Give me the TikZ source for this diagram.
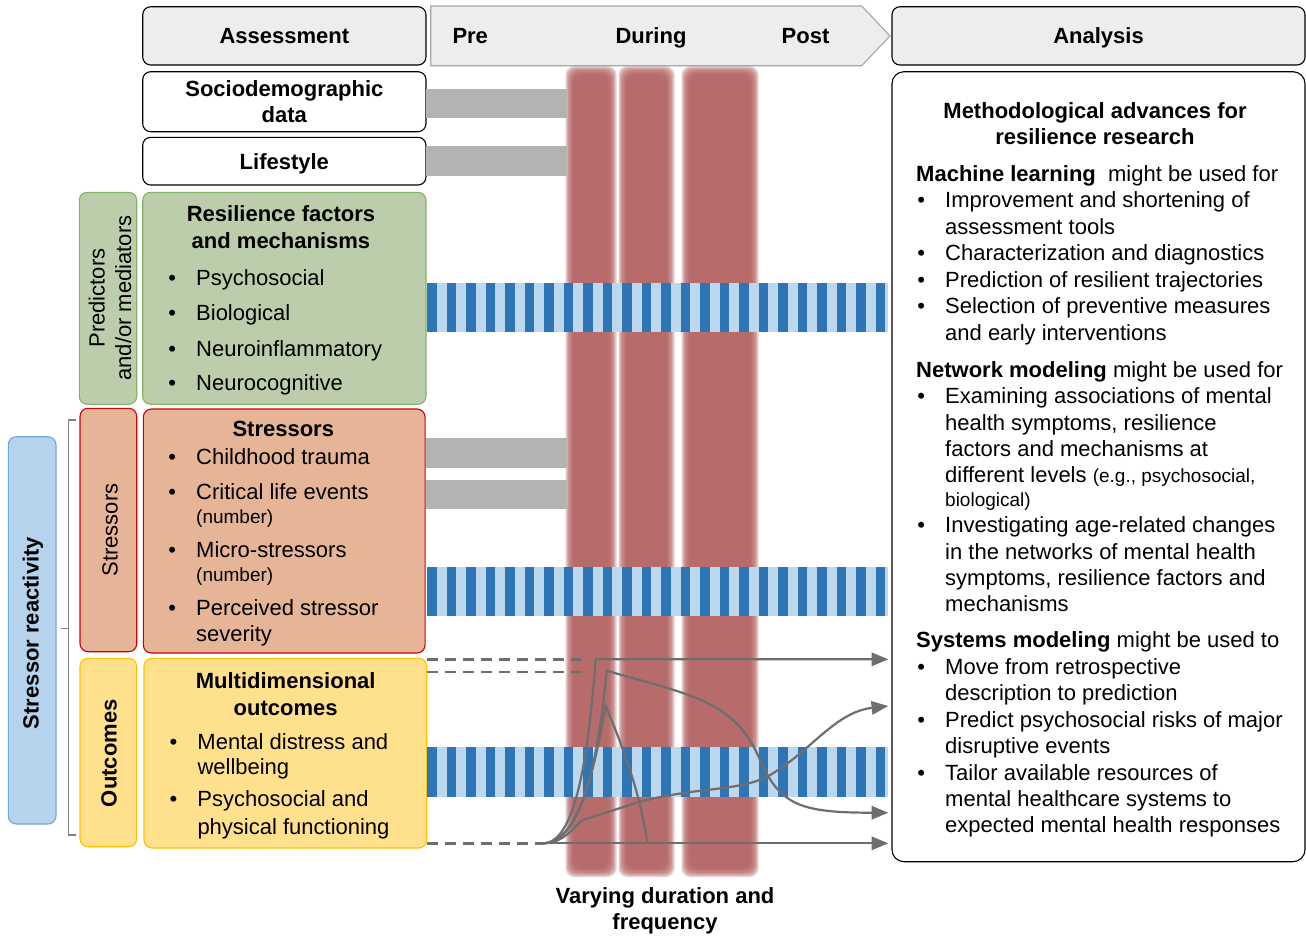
\documentclass[tikz,border=0pt]{standalone}
\usepackage{fontspec}
\setmainfont{Liberation Sans}
\usepackage{tikz}
\usetikzlibrary{arrows.meta,positioning}
\definecolor{hdrgray}{RGB}{237,237,237}
\definecolor{phaseline}{RGB}{166,166,166}
\definecolor{bargray}{RGB}{179,179,179}
\definecolor{greenfill}{RGB}{188,205,172}
\definecolor{greenline}{RGB}{130,179,102}
\definecolor{stressfill}{RGB}{230,180,150}
\definecolor{stressline}{RGB}{204,0,0}
\definecolor{outfill}{RGB}{255,224,140}
\definecolor{outline}{RGB}{255,192,0}
\definecolor{reactfill}{RGB}{182,211,238}
\definecolor{reactline}{RGB}{111,168,220}
\definecolor{stripelt}{RGB}{189,215,238}
\definecolor{stripedk}{RGB}{46,117,182}
\definecolor{redcol}{RGB}{177,94,94}
\definecolor{trajgray}{RGB}{110,110,110}
\definecolor{brkgray}{RGB}{128,128,128}
\newcommand\bul{\llap{\textbullet\hspace{20.2pt}}}
\newcommand\smallfont{\fontsize{19}{23}\selectfont}

\begin{document}
\begin{tikzpicture}[x=1pt,y=-1pt,
  every node/.style={inner sep=0pt},
  box/.style={draw,rounded corners=8pt,line width=1.1pt},
  reg/.style={font=\fontsize{22}{26.5}\selectfont},
  bld/.style={font=\fontsize{22}{26.5}\selectfont\bfseries},
  hdr/.style={box,bld,fill=hdrgray,minimum height=58.3pt,text height=15.8pt,text depth=0pt},
  ln/.style={reg,anchor=base west},
  smalltxt/.style={font=\smallfont},
  ttl/.style={bld,align=center},
  greenbox/.style={box,fill=greenfill,draw=greenline},
  stressbox/.style={box,fill=stressfill,draw=stressline},
  outbox/.style={box,fill=outfill,draw=outline},
  traj/.style={draw=trajgray,line width=2.2pt},
  arrtip/.style={-{Triangle[length=16.7pt,width=13.3pt]}},
  dashln/.style={draw=trajgray,line width=2.4pt,dash pattern=on 11pt off 7pt}
]
\useasboundingbox (0,0) rectangle (1306,935);

% time columns
\foreach \xa/\xb in {567/615,620/673,683/757}
  \foreach \k in {0,...,6}
    \fill[redcol,fill opacity=0.3,rounded corners=9pt]
      (\xa-1.5+\k*1.3,66+\k*1.4) rectangle (\xb+1.5-\k*1.3,877-\k*1.4);

% header row
\node[hdr,minimum width=283.3pt] (assess) at (284.35,35.85) {Assessment};
\draw[fill=hdrgray,draw=phaseline,line width=1.1pt]
  (430.7,6) -- (861.7,6) -- (890,35.85) -- (861.7,65.7) -- (430.7,65.7) -- cycle;
\node[bld,anchor=base west] (pre) at (452.3,43.3) {Pre};
\node[bld,anchor=base] (during) at (651,43.3) {During};
\node[bld,anchor=base] (post) at (805.5,43.3) {Post};
\node[hdr,minimum width=413pt] (anahdr) at (1098.5,35.85) {Analysis};

% assessment column
\node[box,ttl,fill=white,minimum width=283.3pt,minimum height=60pt] (socio) at (284.35,101.7) {Sociodemographic\\data};
\node[box,bld,fill=white,minimum width=283.3pt,minimum height=47.7pt,text height=15.8pt,text depth=0pt] (life) at (284.35,161.15) {Lifestyle};

\node[greenbox,minimum width=57.4pt,minimum height=212pt] (predbox) at (108,298.3) {};
\node[reg,rotate=90,align=center] (predlab) at (110,298) {Predictors\\and/or mediators};
\node[greenbox,minimum width=283.3pt,minimum height=212pt] (resbox) at (284.35,298.3) {};
\node[ttl] (restitle) at (281,227) {Resilience factors\\and mechanisms};
\foreach \yy/\txt [count=\i] in {285.7/Psychosocial,320.7/Biological,356.7/Neuroinflammatory,390.7/Neurocognitive}
  \node[ln] (res\i) at (196,\yy) {\bul\txt};

\node[stressbox,minimum width=56.7pt,minimum height=243.4pt] (strS) at (108.35,530) {};
\node[reg,rotate=90] (strlab) at (110,530) {Stressors};
\node[stressbox,minimum width=281.7pt,minimum height=244pt] (strB) at (284.2,531) {};
\node[bld,anchor=base] (strtitle) at (283.3,436.7) {Stressors};
\foreach \yy/\txt [count=\i] in {464/Childhood trauma,499/Critical life events,557.3/Micro-stressors,615.7/Perceived stressor}
  \node[ln] (str\i) at (196,\yy) {\bul\txt};
\foreach \yy [count=\i] in {523.3,581.7}
  \node[ln,smalltxt] (num\i) at (196,\yy) {(number)};
\node[ln] (sev) at (196,641.7) {severity};

\node[outbox,minimum width=56.7pt,minimum height=188.4pt] (outS) at (108.35,752.5) {};
\node[bld,rotate=90] (outlab) at (109,753.3) {Outcomes};
\node[outbox,minimum width=282.7pt,minimum height=189.7pt] (outB) at (285.35,753.15) {};
\node[ttl] (outtitle) at (285.7,694.2) {Multidimensional\\outcomes};
\foreach \yy/\txt [count=\i] in {749/Mental distress and,806.7/Psychosocial and}
  \node[ln] (out\i) at (197.3,\yy) {\bul\txt};
\foreach \yy/\txt [count=\i] in {774/wellbeing,834/physical functioning}
  \node[ln] (outc\i) at (197.3,\yy) {\txt};

\node[box,fill=reactfill,draw=reactline,minimum width=47.7pt,minimum height=387.3pt] (react) at (32.15,630.35) {};
\node[bld,rotate=90] (reactlab) at (33,633) {Stressor reactivity};
\draw[brkgray,line width=1.1pt] (76,420) -- (68.3,420) -- (68.3,835) -- (76,835);
\draw[brkgray,line width=1.1pt] (68.3,628.3) -- (60.7,628.3);

% bars
\foreach \ya/\yb in {89/118.3,145.7/175.7,437.7/467.7,479.7/509.3}
  \fill[bargray] (426,\ya) rectangle (567,\yb);
\foreach \ya/\yb in {282.7/331.7,566.7/615.7,747.3/796.7}{
  \fill[stripelt] (426.7,\ya) rectangle (888,\yb);
  \foreach \i in {0,...,23}
    \fill[stripedk] (427.3+\i*19.5,\ya) rectangle (436.7+\i*19.5,\yb);
}

% trajectories
\coordinate (d1) at (587,659.3);
\coordinate (d2) at (587,671.7);
\coordinate (t0) at (543,843.3);
\coordinate (e1) at (888.3,659.3);
\coordinate (e2) at (888.3,812.7);
\coordinate (e3) at (888.3,706);
\coordinate (e4) at (888.3,843.3);
\draw[dashln] (outB.east |- d1) -- (d1);
\draw[dashln] (outB.east |- d2) -- (d2);
\draw[dashln] (outB.east |- t0) -- (t0);
\draw[traj,arrtip] (t0) .. controls (575,843.3) and (588,760) .. (595.7,659.3) -- (e1);
\draw[traj,arrtip] (t0) .. controls (582,843.3) and (598,760) .. (606.7,670.7)
  .. controls (690,695) and (735,700) .. (760,760) .. controls (780,805) and (800,812.7) .. (e2);
\draw[traj] (t0) .. controls (580,843.3) and (596,760) .. (605.7,706)
  .. controls (620,740) and (640,790) .. (647.3,843.3);
\draw[traj,arrtip] (t0) .. controls (565,843.3) and (575,825) .. (582.7,820) -- (640,801.7)
  .. controls (700,786) and (740,792) .. (770,775) .. controls (810,752) and (835,712) .. (e3);
\draw[traj,arrtip] (t0) -- (e4);
\node[ttl] (vary) at (665,911) {Varying duration and\\frequency};

% analysis
\node[box,fill=white,rounded corners=12pt,minimum width=413pt,minimum height=790pt] (anabox) at (1098.5,466.7) {};
\node[ttl] (anatitle) at (1095,123.5) {Methodological advances for\\resilience research};
\node[ln] (mlhead) at (916,181) {\textbf{Machine learning}\ \ might be used for};
\foreach \yy/\txt [count=\i] in {207.5/\bul Improvement and shortening of,234/assessment tools,
    260.5/\bul Characterization and diagnostics,287/\bul Prediction of resilient trajectories,
    313.5/\bul Selection of preventive measures,340/and early interventions}
  \node[ln] (ml\i) at (945,\yy) {\txt};
\node[ln] (nwhead) at (916,377) {\textbf{Network modeling} might be used for};
\foreach \yy/\txt [count=\i] in {403.5/\bul Examining associations of mental,430/{health symptoms, resilience},
    456/factors and mechanisms at,482.5/{different levels {\smallfont(e.g., psychosocial,}},
    506.5/{\smallfont biological)},532.5/\bul Investigating age-related changes,
    559/in the networks of mental health,585/{symptoms, resilience factors and},611/mechanisms}
  \node[ln] (nw\i) at (945,\yy) {\txt};
\node[ln] (syshead) at (916,647.5) {\textbf{Systems modeling} might be used to};
\foreach \yy/\txt [count=\i] in {674.5/\bul Move from retrospective,700.5/description to prediction,
    727/\bul Predict psychosocial risks of major,753.5/disruptive events,
    780/\bul Tailor available resources of,806/mental healthcare systems to,
    832.5/expected mental health responses}
  \node[ln] (sys\i) at (945,\yy) {\txt};
\end{tikzpicture}
\end{document}
